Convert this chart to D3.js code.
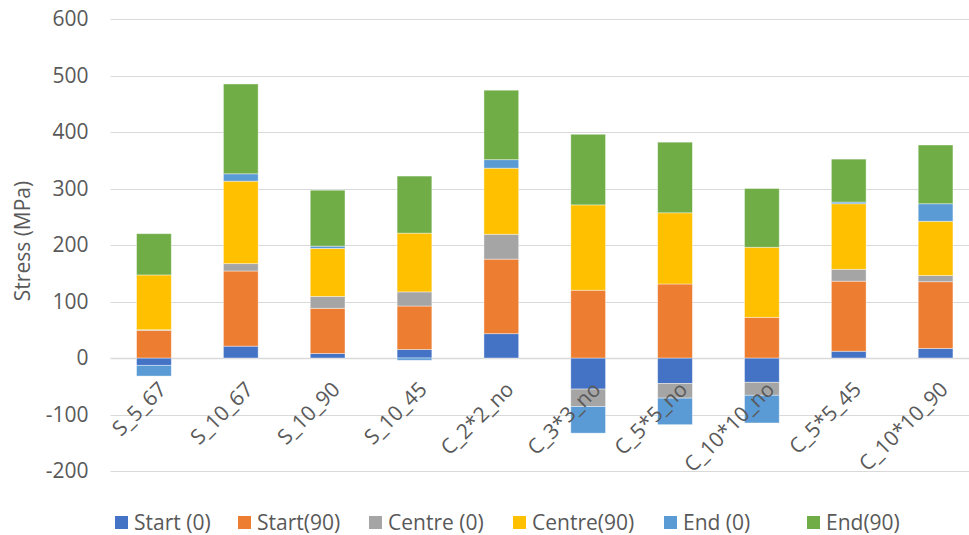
<!DOCTYPE html>
<html>
<head>
<meta charset="utf-8">
<script src="https://cdn.jsdelivr.net/npm/d3@7"></script>
<style>
  body { margin: 0; background: #fff; }
  svg { display: block; font-family: "Open Sans", sans-serif; }
</style>
</head>
<body>
<div id="chart"></div>
<script>
// categories and series
const categories = ["S_5_67", "S_10_67", "S_10_90", "S_10_45", "C_2*2_no",
                    "C_3*3_no", "C_5*5_no", "C_10*10_no", "C_5*5_45", "C_10*10_90"];
const seriesNames = ["Start (0)", "Start(90)", "Centre (0)", "Centre(90)", "End (0)", "End(90)"];

const start0   = [-13,  21,   8,  15,  43, -55, -45, -43,  12,  17];
const start90  = [ 49, 133,  80,  77, 132, 120, 131,  72, 124, 118];
const centre0  = [  1,  13,  21,  25,  44, -31, -26, -23,  21,  11];
const centre90 = [ 97, 146,  85, 104, 117, 151, 126, 124, 116,  96];
const end0     = [-19,  13,   4,  -4,  15, -47, -47, -49,   3,  31];
const end90    = [ 73, 159,  99, 101, 123, 125, 125, 104,  76, 104];

const yTicks = [-200, -100, 0, 100, 200, 300, 400, 500, 600];
const colors = ["#4472C4", "#ED7D31", "#A5A5A5", "#FFC000", "#5B9BD5", "#70AD47"];

const seriesValues = [start0, start90, centre0, centre90, end0, end90];
const table = categories.map((c, i) => {
    let row = { category: c };
    seriesNames.forEach((s, j) => { row[s] = seriesValues[j][i]; });
    return row;
});

const width = 969, height = 535;
const plot = { left: 110.5, right: 979, top: 19, bottom: 471 };

let svg = d3.select("#chart").append("svg")
    .attr("width", width)
    .attr("height", height);

let x = d3.scaleBand()
    .domain(categories)
    .range([plot.left, plot.right])
    .paddingInner(0.6)
    .paddingOuter(0.3);

let y = d3.scaleLinear()
    .domain([-200, 600])
    .range([plot.bottom, plot.top]);

// gridlines
svg.append("g")
    .selectAll("line")
    .data(yTicks)
    .join("line")
    .attr("x1", plot.left)
    .attr("x2", width)
    .attr("y1", d => Math.round(y(d)) + 0.5)
    .attr("y2", d => Math.round(y(d)) + 0.5)
    .attr("stroke", "#D9D9D9")
    .attr("stroke-width", d => d === 0 ? 1.5 : 1.2);

// y axis labels (plain hyphen for negatives, like Excel)
let yAxis = d3.axisLeft(y).tickValues(yTicks).tickSize(0).tickPadding(22)
    .tickFormat(d => String(d));
let yG = svg.append("g")
    .attr("transform", `translate(${plot.left}, 0)`)
    .call(yAxis);
yG.select(".domain").remove();
yG.selectAll("text")
    .attr("fill", "#595959")
    .attr("font-size", 21)
    .attr("font-family", "Open Sans, sans-serif");

svg.append("text")
    .attr("transform", "translate(30, 241) rotate(-90)")
    .attr("text-anchor", "middle")
    .attr("fill", "#595959")
    .attr("font-size", 21)
    .text("Stress (MPa)");

// stacked bars, positives above zero and negatives below
let stack = d3.stack()
    .keys(seriesNames)
    .offset(d3.stackOffsetDiverging);
let stacked = stack(table);

svg.append("g")
    .selectAll("g")
    .data(stacked)
    .join("g")
    .attr("fill", (d, i) => colors[i])
    .selectAll("rect")
    .data(d => d)
    .join("rect")
    .attr("x", d => x(d.data.category))
    .attr("width", x.bandwidth())
    .attr("y", d => y(Math.max(d[0], d[1])))
    .attr("height", d => Math.abs(y(d[0]) - y(d[1])))
    .attr("stroke", "#ffffff")
    .attr("stroke-opacity", 0.5)
    .attr("stroke-width", 0.8);

// category labels, rotated
svg.append("g")
    .selectAll("text")
    .data(categories)
    .join("text")
    .attr("transform", d => `translate(${x(d) + x.bandwidth() / 2 + 3}, ${y(0) + 22}) rotate(-45)`)
    .attr("text-anchor", "end")
    .attr("dy", "0.72em")
    .attr("fill", "#595959")
    .attr("font-size", 21)
    .text(d => d);

// legend
const legendX = [115, 238, 369, 513, 664, 807];
let legend = svg.append("g")
    .selectAll("g")
    .data(seriesNames)
    .join("g")
    .attr("transform", (d, i) => `translate(${legendX[i]}, 516)`);
legend.append("rect")
    .attr("width", 13)
    .attr("height", 13)
    .attr("fill", (d, i) => colors[i]);
legend.append("text")
    .attr("x", 19)
    .attr("y", 14)
    .attr("fill", "#595959")
    .attr("font-size", 21)
    .text(d => d);
</script>
</body>
</html>
